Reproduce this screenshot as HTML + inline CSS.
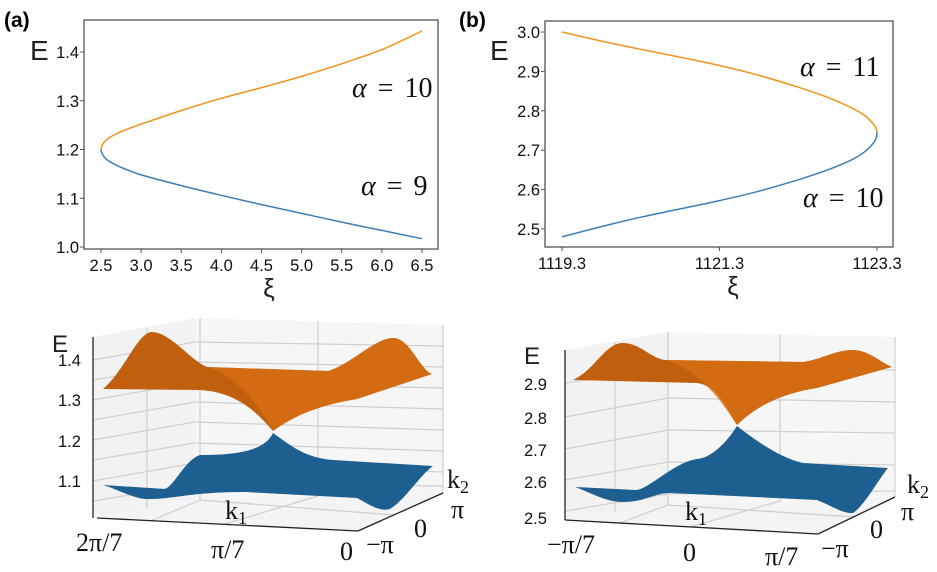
<!DOCTYPE html>
<html><head><meta charset="utf-8">
<style>
body{margin:0;background:#fff;}
svg{display:block;font-family:"Liberation Sans",sans-serif;}
.tk{font-size:16.5px;fill:#111;}
.sf{font-family:"Liberation Serif","DejaVu Serif",serif;fill:#111;}
</style></head>
<body>
<svg id="fig" width="937" height="572" viewBox="0 0 937 572">
<text x="4" y="27" font-size="21" font-weight="bold">(a)</text>
<text x="459" y="27" font-size="21" font-weight="bold">(b)</text>

<g id="pa"></g>
<g id="pb"></g>

<!-- 3D panel a (illustration) -->
<g>
 <polygon points="93,337 195,318 195,500 93,518" fill="#f2f2f2"/>
 <polygon points="195,318 443,325 443,493 195,500" fill="#f6f6f6"/>
 <polygon points="93,518 195,500 443,493 358,531" fill="#f4f4f4"/>
 <g stroke="#cfcfcf" stroke-width="1.2" fill="none">
  <line x1="147" y1="328" x2="147" y2="509"/><line x1="200" y1="318" x2="200" y2="500"/><line x1="318" y1="321" x2="318" y2="496"/><line x1="443" y1="325" x2="443" y2="493"/>
  <polyline points="93,360 195,342 443,346"/><polyline points="93,380 195,362 443,367"/><polyline points="93,400 195,382 443,388"/><polyline points="93,420 195,402 443,409"/><polyline points="93,440 195,422 443,430"/><polyline points="93,460 195,443 443,451"/><polyline points="93,481 195,463 443,472"/><polyline points="93,501 195,484 443,486"/>
  <line x1="225" y1="524" x2="318" y2="496"/><line x1="150" y1="521" x2="200" y2="500"/><line x1="393" y1="515" x2="200" y2="500"/>
 </g>
 <g stroke="#222" stroke-width="1.3" fill="none">
  <line x1="93" y1="337" x2="93" y2="518"/><line x1="97" y1="518" x2="358" y2="531"/><line x1="358" y1="531" x2="443" y2="493"/>
 </g>
 <path d="M103,389 C125,370 138,332 152,332 C170,332 190,360 207,367 L328,371 C350,365 375,338 393,338 C410,338 420,370 432,374 L357,399 C320,405 295,415 273,431 C255,410 235,392 200,390 Z" fill="#c0600f"/>
 <path d="M207,367 L328,371 C350,365 375,338 393,338 C410,338 420,370 432,374 L357,399 C320,405 295,415 273,431 C260,405 235,375 207,367Z" fill="#dc7015" opacity="0.7"/>
 <path d="M273,433 C265,450 240,455 200,455 C185,460 175,485 165,489 L103,485 C120,490 135,500 150,499 C175,499 190,492 245,492 L357,498 C370,505 380,512 390,509 C405,500 420,475 433,466 L333,460 C305,458 290,445 273,433Z" fill="#1d5f90"/>
 <text x="52" y="352" font-size="24" fill="#222">E</text>
 <text class="tk" x="58" y="366">1.4</text>
 <text class="tk" x="58" y="406">1.3</text>
 <text class="tk" x="58" y="447">1.2</text>
 <text class="tk" x="58" y="487">1.1</text>
 <text class="sf" x="76" y="551" font-size="26">2π/7</text>
 <text class="sf" x="211" y="558" font-size="26">π/7</text>
 <text class="sf" x="340" y="560" font-size="26">0</text>
 <text class="sf" x="366" y="553" font-size="26">−π</text>
 <text class="sf" x="414" y="537" font-size="26">0</text>
 <text class="sf" x="451" y="518" font-size="26">π</text>
 <text class="sf" x="225" y="519" font-size="26">k<tspan font-size="18" dy="5">1</tspan></text>
 <text class="sf" x="447" y="488" font-size="26">k<tspan font-size="18" dy="5">2</tspan></text>
</g>

<!-- 3D panel b (illustration) -->
<g>
 <polygon points="565,350 668,332 668,505 565,520" fill="#f2f2f2"/>
 <polygon points="668,332 895,337 895,497 668,505" fill="#f6f6f6"/>
 <polygon points="565,520 668,505 895,497 818,534" fill="#f4f4f4"/>
 <g stroke="#cfcfcf" stroke-width="1.2" fill="none">
  <line x1="615" y1="342" x2="615" y2="512"/><line x1="668" y1="332" x2="668" y2="505"/><line x1="780" y1="334" x2="780" y2="501"/><line x1="895" y1="337" x2="895" y2="497"/>
  <polyline points="565,383 668,368 895,370"/><polyline points="565,417 668,398 895,402"/><polyline points="565,449 668,430 895,433"/><polyline points="565,480 668,462 895,465"/><polyline points="565,511 668,494 895,491"/>
  <line x1="690" y1="527" x2="780" y2="501"/><line x1="620" y1="523" x2="668" y2="505"/><line x1="855" y1="517" x2="668" y2="505"/>
 </g>
 <g stroke="#222" stroke-width="1.3" fill="none">
  <line x1="565" y1="350" x2="565" y2="520"/><line x1="565" y1="520" x2="818" y2="534"/><line x1="818" y1="534" x2="895" y2="497"/>
 </g>
 <path d="M573,380 C595,370 605,343 623,343 C640,343 650,358 665,360 L803,362 C820,360 835,350 853,350 C868,350 880,362 892,367 L817,388 C790,392 760,402 737,425 C725,405 715,385 697,383 Z" fill="#c0600f"/>
 <path d="M665,360 L803,362 C820,360 835,350 853,350 C868,350 880,362 892,367 L817,388 C790,392 760,402 737,425 C720,400 700,370 665,360Z" fill="#dc7015" opacity="0.7"/>
 <path d="M737,426 C725,445 710,458 697,459 C675,462 650,488 637,490 L575,487 C590,492 605,502 623,502 C645,502 655,493 670,493 L817,500 C830,505 843,514 853,513 C865,505 878,480 888,468 L803,463 C780,458 755,440 737,426Z" fill="#1d5f90"/>
 <text x="524" y="364" font-size="24" fill="#222">E</text>
 <text class="tk" x="524" y="390">2.9</text>
 <text class="tk" x="524" y="424">2.8</text>
 <text class="tk" x="524" y="456">2.7</text>
 <text class="tk" x="524" y="488">2.6</text>
 <text class="tk" x="524" y="524">2.5</text>
 <text class="sf" x="547" y="553" font-size="26">−π/7</text>
 <text class="sf" x="683" y="561" font-size="26">0</text>
 <text class="sf" x="765" y="565" font-size="26">π/7</text>
 <text class="sf" x="821" y="557" font-size="26">−π</text>
 <text class="sf" x="870" y="538" font-size="26">0</text>
 <text class="sf" x="901" y="520" font-size="26">π</text>
 <text class="sf" x="685" y="520" font-size="26">k<tspan font-size="18" dy="5">1</tspan></text>
 <text class="sf" x="907" y="493" font-size="26">k<tspan font-size="18" dy="5">2</tspan></text>
</g>
</svg>
<script>
// Panel (a) data
const aXTicks=[2.5,3.0,3.5,4.0,4.5,5.0,5.5,6.0,6.5];
const aYTicks=[1.0,1.1,1.2,1.3,1.4];
const aUpperX=[2.5,2.51,2.53,2.56,2.6,2.7,2.8,3.0,3.5,4.0,4.5,5.0,5.5,6.0,6.5];
const aUpperE=[1.2,1.207,1.213,1.219,1.224,1.233,1.24,1.252,1.28,1.305,1.327,1.35,1.376,1.405,1.443];
const aLowerX=[2.5,2.51,2.53,2.56,2.6,2.7,2.8,3.0,3.5,4.0,4.5,5.0,5.5,6.0,6.5];
const aLowerE=[1.2,1.193,1.187,1.181,1.176,1.167,1.16,1.148,1.126,1.106,1.087,1.069,1.051,1.034,1.017];
// Panel (b) data
const bXTicks=[1119.3,1121.3,1123.3];
const bYTicks=[2.5,2.6,2.7,2.8,2.9,3.0];
const bUpperX=[1119.3,1119.8,1120.3,1120.8,1121.3,1121.8,1122.3,1122.7,1123.0,1123.15,1123.25,1123.29,1123.3];
const bUpperE=[3.0,2.977,2.956,2.936,2.915,2.89,2.86,2.832,2.805,2.787,2.767,2.755,2.745];
const bLowerX=[1119.3,1119.8,1120.3,1120.8,1121.3,1121.8,1122.3,1122.7,1123.0,1123.15,1123.25,1123.29,1123.3];
const bLowerE=[2.48,2.506,2.53,2.551,2.572,2.596,2.625,2.652,2.678,2.697,2.717,2.731,2.745];

const NS="http://www.w3.org/2000/svg";
function mk(p,tag,attrs){const e=document.createElementNS(NS,tag);for(const k in attrs)e.setAttribute(k,attrs[k]);p.appendChild(e);return e;}
function smooth(pts){
  let d='M'+pts[0][0].toFixed(1)+','+pts[0][1].toFixed(1);
  for(let i=0;i<pts.length-1;i++){
    const p0=pts[i-1]||pts[i],p1=pts[i],p2=pts[i+1],p3=pts[i+2]||p2;
    const c1=[p1[0]+(p2[0]-p0[0])/6,p1[1]+(p2[1]-p0[1])/6];
    const c2=[p2[0]-(p3[0]-p1[0])/6,p2[1]-(p3[1]-p1[1])/6];
    d+='C'+c1.map(v=>v.toFixed(1))+' '+c2.map(v=>v.toFixed(1))+' '+p2[0].toFixed(1)+','+p2[1].toFixed(1);
  }
  return d;
}
function panel(g,box,xd,yd,xt,yt,xfmt,yfmt,series,ann,xtitleX){
  const sx=v=>box.x0+(v-xd[0])/(xd[1]-xd[0])*(box.x1-box.x0);
  const sy=v=>box.y0+(v-yd[0])/(yd[1]-yd[0])*(box.y1-box.y0);
  const fr=mk(g,'rect',{x:box.fx,y:box.fy,width:box.fw,height:box.fh,fill:'none',stroke:'#555','stroke-width':1.3});
  
  
  xt.forEach(v=>{
    mk(g,'line',{x1:sx(v),x2:sx(v),y1:box.fy+box.fh,y2:box.fy+box.fh+4,stroke:'#555'});
    const t=mk(g,'text',{x:sx(v),y:box.fy+box.fh+22,'text-anchor':'middle','class':'tk'});
    t.textContent=xfmt(v);
    
    
  });
  yt.forEach(v=>{
    mk(g,'line',{x1:box.fx-4,x2:box.fx,y1:sy(v),y2:sy(v),stroke:'#555'});
    const t=mk(g,'text',{x:box.fx-5,y:sy(v)+6,'text-anchor':'end','class':'tk'});
    t.textContent=yfmt(v);
    
    
  });
  series.forEach(s=>{
    const pts=s.x.map((v,i)=>[sx(v),sy(s.y[i])]);
    const p=mk(g,'path',{d:smooth(pts),fill:'none',stroke:s.c,'stroke-width':1.5});
    
    
  });
  ann.forEach(a=>{
    const t=mk(g,'text',{x:a.x,y:a.y,'font-size':28,'class':'sf','word-spacing':'4'});
    t.innerHTML='<tspan font-style="italic">α</tspan> = '+a.v;
    
    
  });
  const xt2=mk(g,'text',{x:xtitleX,y:box.fy+box.fh+48,'font-size':26,'text-anchor':'middle',fill:'#222'});
  xt2.textContent='ξ';
  
  
}
const f1=v=>v.toFixed(1);
panel(document.getElementById('pa'),
  {x0:101,x1:422,y0:247,y1:52,fx:84,fy:20,fw:354,fh:229},
  [2.5,6.5],[1.0,1.4],aXTicks,aYTicks,f1,f1,
  [{x:aUpperX,y:aUpperE,c:'#f2921e',n:'alpha-10-curve'},{x:aLowerX,y:aLowerE,c:'#3d7fb5',n:'alpha-9-curve'}],
  [{x:352,y:97},{x:361,y:195}].map((p,i)=>({x:p.x,y:p.y,v:['10','9'][i]})),269);
panel(document.getElementById('pb'),
  {x0:562,x1:877,y0:229,y1:32,fx:545,fy:21,fw:348,fh:226},
  [1119.3,1123.3],[2.5,3.0],bXTicks,bYTicks,f1,f1,
  [{x:bUpperX,y:bUpperE,c:'#f2921e',n:'alpha-11-curve'},{x:bLowerX,y:bLowerE,c:'#3d7fb5',n:'alpha-10-curve'}],
  [{x:800,y:76},{x:803,y:207}].map((p,i)=>({x:p.x,y:p.y,v:['11','10'][i]})),733);
[[30,60],[490,60]].forEach(p=>{
  const t=mk(document.getElementById('fig'),'text',{x:p[0],y:p[1],'font-size':28,fill:'#222'});
  t.textContent='E';
  
  
});
</script>
</body></html>
